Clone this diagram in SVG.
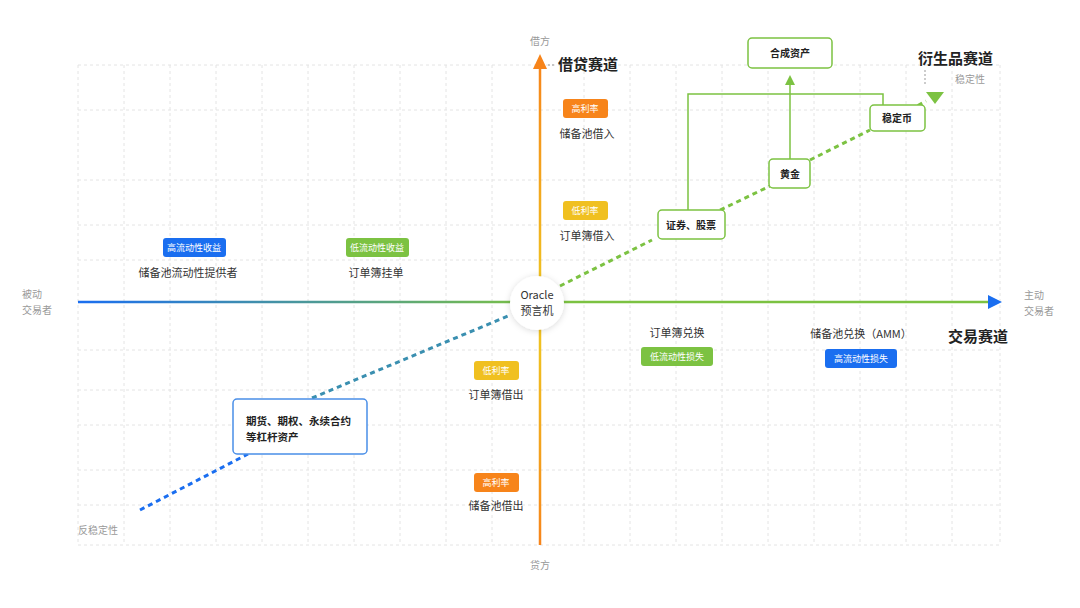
<svg xmlns="http://www.w3.org/2000/svg" width="1080" height="608" viewBox="0 0 1080 608">
<defs>
<linearGradient id="hx" x1="78" y1="0" x2="1000" y2="0" gradientUnits="userSpaceOnUse"><stop offset="0" stop-color="#1a6ef0"/><stop offset="0.5" stop-color="#7cc242"/><stop offset="1" stop-color="#7cc242"/></linearGradient>
<linearGradient id="vy" x1="0" y1="60" x2="0" y2="545" gradientUnits="userSpaceOnUse"><stop offset="0" stop-color="#f7841a"/><stop offset="0.45" stop-color="#f0c020"/><stop offset="0.6" stop-color="#f0c020"/><stop offset="1" stop-color="#f7841a"/></linearGradient>
<filter id="sh" x="-30%" y="-30%" width="160%" height="160%"><feDropShadow dx="0" dy="1" stdDeviation="3" flood-color="#000" flood-opacity="0.15"/></filter>
</defs>
<style>
text{font-family:"Noto Sans CJK SC","Noto Sans",sans-serif;}
.grid{stroke:#e4e4e4;stroke-width:1;stroke-dasharray:3 3;}
.lbl{font-size:11px;fill:#333;text-anchor:middle;}
.gry{font-size:10px;fill:#999;}
.tag{font-size:9px;fill:#fff;text-anchor:middle;}
.ttl{font-size:15px;font-weight:bold;fill:#222;}
.gbox{fill:#fff;stroke:#7cc242;stroke-width:1.5;}
.bt{font-size:10px;fill:#222;text-anchor:middle;font-weight:bold;}
.bts{font-size:10.5px;fill:#222;font-weight:bold;}
</style>
<rect width="1080" height="608" fill="#fff"/>
<g id="grid">
<path class="grid" d="M78 65V545M124 65V545M170 65V545M216 65V545M262 65V545M308 65V545M354 65V545M400 65V545M446 65V545M492 65V545M584 65V545M630 65V545M676 65V545M722 65V545M768 65V545M814 65V545M860 65V545M906 65V545M952 65V545M1000 65V545"/>
<path class="grid" d="M78 65H1000M78 110H1000M78 180H1000M78 225H1000M78 260H1000M78 350H1000M78 390H1000M78 425H1000M78 470H1000M78 505H1000M78 545H1000"/>
</g>
<g id="connectors">
<line x1="78" y1="302" x2="990" y2="302" stroke="url(#hx)" stroke-width="2.5"/>
<polygon points="1002,302 988,295 988,309" fill="#1a6ef0"/>
<line x1="540" y1="545" x2="540" y2="68" stroke="url(#vy)" stroke-width="2.5"/>
<polygon points="540,54 533,69 547,69" fill="#f7841a"/>
<line x1="140" y1="510" x2="248" y2="454" stroke="#1a6ef0" stroke-width="3" stroke-dasharray="5 4"/>
<line x1="312" y1="398" x2="508" y2="316" stroke="#3a8fb0" stroke-width="3" stroke-dasharray="5 4"/>
<line x1="560" y1="286" x2="652" y2="240" stroke="#7cc242" stroke-width="3" stroke-dasharray="5 4"/>
<line x1="712" y1="214" x2="770" y2="186" stroke="#7cc242" stroke-width="3" stroke-dasharray="5 4"/>
<line x1="810" y1="160" x2="870" y2="130" stroke="#7cc242" stroke-width="3" stroke-dasharray="5 4"/>
<line x1="910" y1="110" x2="926" y2="101" stroke="#7cc242" stroke-width="3" stroke-dasharray="5 4"/>
<polygon points="935,104 926,92 944,92" fill="#7cc242"/>
<path d="M688 211V94H883V105" fill="none" stroke="#7cc242" stroke-width="1.5"/>
<line x1="790" y1="159" x2="790" y2="84" stroke="#7cc242" stroke-width="1.5"/>
<polygon points="790,75 785,85 795,85" fill="#7cc242"/>
<path d="M548 65H556M925 70V85" stroke="#999" stroke-width="1" stroke-dasharray="2 2"/>
</g>
<text class="gry" x="540" y="45" text-anchor="middle">借方</text>
<text class="gry" x="540" y="569" text-anchor="middle">贷方</text>
<text class="gry" x="22" y="298">被动</text>
<text class="gry" x="22" y="314">交易者</text>
<text class="gry" x="1024" y="299">主动</text>
<text class="gry" x="1024" y="315">交易者</text>
<text class="gry" x="955" y="83">稳定性</text>
<text class="gry" x="78" y="534">反稳定性</text>
<text class="ttl" x="558" y="70">借贷赛道</text>
<text class="ttl" x="918" y="64">衍生品赛道</text>
<text class="ttl" x="948" y="342">交易赛道</text>
<g id="n-oracle"><circle cx="537" cy="303" r="27" fill="#fff" filter="url(#sh)"/><text class="lbl" x="537" y="299">Oracle</text><text class="lbl" x="537" y="315">预言机</text></g>
<g id="t1"><rect x="563" y="99" width="45" height="19" rx="3" fill="#f7841a"/><text class="tag" x="585" y="112">高利率</text><text class="lbl" x="587" y="138">储备池借入</text></g>
<g id="t2"><rect x="563" y="201" width="45" height="19" rx="3" fill="#f0c020"/><text class="tag" x="585" y="214">低利率</text><text class="lbl" x="587" y="240">订单簿借入</text></g>
<g id="t3"><rect x="474" y="361" width="45" height="19" rx="3" fill="#f0c020"/><text class="tag" x="496" y="374">低利率</text><text class="lbl" x="496" y="399">订单簿借出</text></g>
<g id="t4"><rect x="474" y="473" width="45" height="19" rx="3" fill="#f7841a"/><text class="tag" x="496" y="486">高利率</text><text class="lbl" x="496" y="510">储备池借出</text></g>
<g id="t5"><rect x="132" y="238" width="63" height="19" rx="3" fill="#1a6ef0" transform="translate(31,0)"/><text class="tag" x="194" y="251">高流动性收益</text><text class="lbl" x="188" y="277">储备池流动性提供者</text></g>
<g id="t6"><rect x="346" y="238" width="63" height="19" rx="3" fill="#7cc242"/><text class="tag" x="377" y="251">低流动性收益</text><text class="lbl" x="376" y="277">订单簿挂单</text></g>
<g id="t7"><rect x="641" y="347" width="72" height="19" rx="3" fill="#7cc242"/><text class="tag" x="677" y="360">低流动性损失</text><text class="lbl" x="677" y="337">订单簿兑换</text></g>
<g id="t8"><rect x="825" y="349" width="72" height="19" rx="3" fill="#1a6ef0"/><text class="tag" x="861" y="362">高流动性损失</text><text class="lbl" x="861" y="338">储备池兑换（AMM）</text></g>
<g id="n-lev"><rect x="233" y="399" width="134" height="55" rx="4" fill="#fff" stroke="#4a8fe8" stroke-width="1.5"/><text class="bts" x="246" y="425">期货、期权、永续合约</text><text class="bts" x="246" y="441">等杠杆资产</text></g>
<g id="n-sec"><rect x="658" y="210" width="67" height="29" rx="4" class="gbox"/><text class="bt" x="691" y="229">证券、股票</text></g>
<g id="n-gold"><rect x="769" y="159" width="41" height="29" rx="4" class="gbox"/><text class="bt" x="790" y="178">黄金</text></g>
<g id="n-stable"><rect x="870" y="105" width="55" height="26" rx="4" class="gbox"/><text class="bt" x="897" y="122">稳定币</text></g>
<g id="n-syn"><rect x="748" y="38" width="84" height="30" rx="4" class="gbox"/><text class="bt" x="790" y="57">合成资产</text></g>
</svg>
